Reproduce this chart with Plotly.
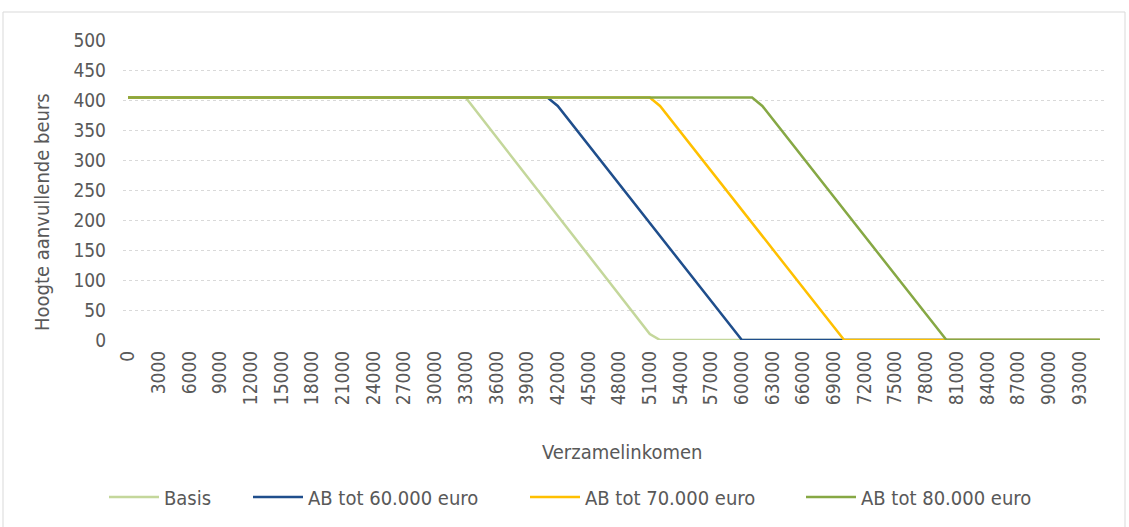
import plotly.graph_objects as go

# Data (breakpoints of piecewise-linear series)
basis_x = [0, 33000, 51000, 52000, 95000]
basis_y = [404, 404, 10, 0, 0]
ab60_x = [0, 41000, 42000, 60000, 95000]
ab60_y = [404, 404, 390, 0, 0]
ab70_x = [0, 51000, 52000, 70000, 95000]
ab70_y = [404, 404, 390, 0, 0]
ab80_x = [0, 61000, 62000, 80000, 95000]
ab80_y = [404, 404, 390, 0, 0]

series_names = ["Basis", "AB tot 60.000 euro", "AB tot 70.000 euro", "AB tot 80.000 euro"]
series_colors = ["#c4d79b", "#1f4e8c", "#ffc000", "#86a844"]

tick_vals = list(range(0, 94000, 3000))
tick_text = [str(v) for v in tick_vals]

FONT = "DejaVu Sans Condensed"
TXT = "#595959"

W, H = 1129, 527
L, T = 123, 40          # plot area left / top
PW, PH = 982, 300       # plot area width / height
R = W - L - PW
B = H - T - PH


def px(xp):
    return (xp - L) / PW


def py(yp):
    return (T + PH - yp) / PH


fig = go.Figure()
legend_left = [110, 254, 531, 807]
data = [(basis_x, basis_y), (ab60_x, ab60_y), (ab70_x, ab70_y), (ab80_x, ab80_y)]
for i, ((xs, ys), name, col) in enumerate(zip(data, series_names, series_colors)):
    lg = "legend" if i == 0 else f"legend{i + 1}"
    fig.add_trace(go.Scatter(x=xs, y=ys, mode="lines", name=name, legend=lg,
                             line=dict(color=col, width=2.5)))

legend_common = dict(orientation="h", xanchor="left", yanchor="middle",
                     font=dict(size=20, color=TXT), itemwidth=50,
                     bgcolor="rgba(0,0,0,0)")
layout_legends = {}
for i, xl in enumerate(legend_left):
    key = "legend" if i == 0 else f"legend{i + 1}"
    layout_legends[key] = dict(legend_common, x=px(xl - 6), y=py(497))

fig.update_layout(
    width=W, height=H,
    paper_bgcolor="white", plot_bgcolor="white",
    margin=dict(l=L, r=R, t=T, b=B, autoexpand=False),
    font=dict(family=FONT, size=20, color=TXT),
    xaxis=dict(range=[-500, 95500], tickmode="array", tickvals=tick_vals,
               ticktext=tick_text, tickangle=-90, showgrid=False,
               zeroline=False, showline=False, ticks="",
               ticklabelstandoff=6,
               tickfont=dict(size=19, color=TXT)),
    yaxis=dict(range=[0, 500], dtick=50, showgrid=True, gridcolor="#d9d9d9",
               griddash="dot", gridwidth=1, zeroline=False, showline=False,
               ticks="", ticklabelstandoff=16,
               tickfont=dict(size=19, color=TXT)),
    showlegend=True,
    **layout_legends,
)

fig.add_annotation(text="Hoogte aanvullende beurs", xref="paper", yref="paper",
                   x=px(42), y=py(212), textangle=-90,
                   showarrow=False, font=dict(size=20, color=TXT),
                   xanchor="center", yanchor="middle")
fig.add_annotation(text="Verzamelinkomen", xref="paper", yref="paper",
                   x=px(622), y=py(452),
                   showarrow=False, font=dict(size=20, color=TXT),
                   xanchor="center", yanchor="middle")
fig.add_shape(type="rect", xref="paper", yref="paper",
              x0=px(3), x1=px(1125),
              y0=py(540), y1=py(12),
              line=dict(color="#d9d9d9", width=1), fillcolor="rgba(0,0,0,0)",
              layer="below")

fig.write_html("out.html", config={"displayModeBar": False},
               post_script="document.body.style.margin='0';")
